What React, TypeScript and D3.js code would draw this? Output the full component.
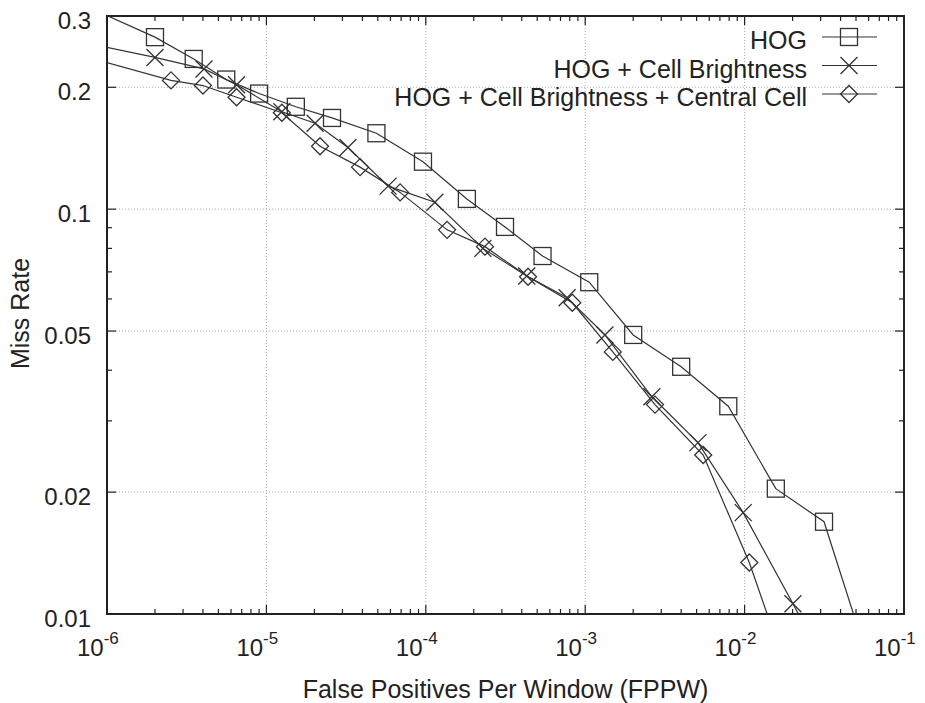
import React from "react"
import * as d3 from "d3"

// values (points outside the frame only feed the clipped lines)
const hogFppw = [5e-7, 2.0e-6, 3.5e-6, 5.6e-6, 9.0e-6, 1.53e-5, 2.58e-5, 4.9e-5, 9.6e-5, 1.81e-4, 3.14e-4, 5.4e-4, 1.06e-3, 2.0e-3, 4.0e-3, 7.9e-3, 1.57e-2, 3.15e-2, 5.5e-2]
const hogMiss = [0.34, 0.266, 0.235, 0.209, 0.193, 0.179, 0.168, 0.154, 0.131, 0.106, 0.0904, 0.0766, 0.066, 0.0489, 0.0408, 0.0326, 0.0204, 0.0169, 0.0085]

const brightFppw = [5e-7, 2.0e-6, 4.06e-6, 6.5e-6, 1.25e-5, 2.02e-5, 3.25e-5, 5.8e-5, 1.14e-4, 2.28e-4, 4.3e-4, 7.7e-4, 1.33e-3, 2.62e-3, 5.1e-3, 9.8e-3, 2.01e-2, 2.3e-2]
const brightMiss = [0.266, 0.237, 0.222, 0.203, 0.174, 0.163, 0.142, 0.114, 0.104, 0.08, 0.0684, 0.0604, 0.0489, 0.0344, 0.0265, 0.0178, 0.0106, 0.0096]

const centralFppw = [5e-7, 2.52e-6, 4.0e-6, 6.5e-6, 1.25e-5, 2.17e-5, 3.87e-5, 6.9e-5, 1.36e-4, 2.35e-4, 4.38e-4, 8.3e-4, 1.49e-3, 2.74e-3, 5.5e-3, 1.07e-2, 1.52e-2]
const centralMiss = [0.248, 0.208, 0.202, 0.189, 0.173, 0.143, 0.127, 0.11, 0.0889, 0.0808, 0.0681, 0.0587, 0.0444, 0.0329, 0.0247, 0.0134, 0.009]

const seriesNames = ["HOG", "HOG + Cell Brightness", "HOG + Cell Brightness + Central Cell"]
const seriesMarkers = ["square", "cross", "diamond"]

const xTickExps = [-6, -5, -4, -3, -2, -1]
const yTickValues = [0.3, 0.2, 0.1, 0.05, 0.02, 0.01]
const yTickLabels = ["0.3", "0.2", "0.1", "0.05", "0.02", "0.01"]
const yMinorValues = [0.09, 0.08, 0.07, 0.06, 0.04, 0.03]

const W = 925
const H = 703
const margin = { top: 16, right: 21, bottom: 89, left: 107 }
const font = "'Liberation Sans', Arial, Helvetica, sans-serif"
const ink = "#222"
const lineCol = "#333"

const Marker = ({ kind, x, y }: { kind: string; x: number; y: number }) => {
  const s = 8.5
  if (kind === "square")
    return <rect x={x - s} y={y - s} width={2 * s} height={2 * s} fill="none" stroke={lineCol} strokeWidth={1.3} />
  if (kind === "cross")
    return (
      <path d={`M${x - s},${y - s}L${x + s},${y + s}M${x - s},${y + s}L${x + s},${y - s}`} stroke={lineCol} strokeWidth={1.3} fill="none" />
    )
  return (
    <path d={`M${x},${y - s}L${x + s},${y}L${x},${y + s}L${x - s},${y}Z`} fill="none" stroke={lineCol} strokeWidth={1.3} />
  )
}

const App = () => {
  const x = d3.scaleLog().domain([1e-6, 1e-1]).range([margin.left, W - margin.right])
  const y = d3.scaleLog().domain([0.01, 0.3]).range([H - margin.bottom, margin.top])
  const [x0, x1] = x.range()
  const [y0, y1] = y.range()

  const series = [
    { xs: hogFppw, ys: hogMiss },
    { xs: brightFppw, ys: brightMiss },
    { xs: centralFppw, ys: centralMiss },
  ].map((s, i) => ({
    name: seriesNames[i],
    marker: seriesMarkers[i],
    pts: s.xs.map((v, j) => [v, s.ys[j]] as [number, number]),
  }))

  const line = d3
    .line<[number, number]>()
    .x((d) => x(d[0]))
    .y((d) => y(d[1]))

  const inside = (d: [number, number]) => d[0] >= 1e-6 && d[0] <= 1e-1 && d[1] >= 0.01 && d[1] <= 0.3

  const xMinor: number[] = []
  xTickExps.slice(0, -1).forEach((e) => {
    for (let k = 2; k < 10; k++) xMinor.push(k * Math.pow(10, e))
  })

  const legendRight = 807
  const legendBase = [49, 77.5, 106]

  return (
    <div style={{ position: "absolute", left: 0, top: 0 }}>
      <svg width={W} height={H} style={{ display: "block", background: "#fff" }}>
        <defs>
          <clipPath id="plot-clip">
            <rect x={x0} y={y1} width={x1 - x0} height={y0 - y1} />
          </clipPath>
        </defs>

        {/* grid */}
        <g stroke="#aaa" strokeWidth={1} strokeDasharray="1,2">
          {xTickExps.slice(1, -1).map((e) => (
            <line key={"gx" + e} x1={x(Math.pow(10, e))} x2={x(Math.pow(10, e))} y1={y1} y2={y0} />
          ))}
          {yTickValues.slice(1, -1).map((v) => (
            <line key={"gy" + v} x1={x0} x2={x1} y1={y(v)} y2={y(v)} />
          ))}
        </g>

        {/* ticks */}
        <g stroke={ink} strokeWidth={1.2}>
          {xTickExps.map((e) => {
            const px = x(Math.pow(10, e))
            return (
              <g key={"tx" + e}>
                <line x1={px} x2={px} y1={y0} y2={y0 - 9} />
                <line x1={px} x2={px} y1={y1} y2={y1 + 9} />
              </g>
            )
          })}
          {xMinor.map((v) => (
            <g key={"mx" + v}>
              <line x1={x(v)} x2={x(v)} y1={y0} y2={y0 - 5} />
              <line x1={x(v)} x2={x(v)} y1={y1} y2={y1 + 5} />
            </g>
          ))}
          {yTickValues.map((v) => (
            <g key={"ty" + v}>
              <line x1={x0} x2={x0 + 9} y1={y(v)} y2={y(v)} />
              <line x1={x1} x2={x1 - 9} y1={y(v)} y2={y(v)} />
            </g>
          ))}
          {yMinorValues.map((v) => (
            <g key={"my" + v}>
              <line x1={x0} x2={x0 + 5} y1={y(v)} y2={y(v)} />
              <line x1={x1} x2={x1 - 5} y1={y(v)} y2={y(v)} />
            </g>
          ))}
        </g>

        {/* series */}
        <g clipPath="url(#plot-clip)">
          {series.map((s) => (
            <path key={s.name} d={line(s.pts) || ""} fill="none" stroke={lineCol} strokeWidth={1.2} />
          ))}
          {series.map((s) =>
            s.pts.filter(inside).map((d, j) => <Marker key={s.name + j} kind={s.marker} x={x(d[0])} y={y(d[1])} />)
          )}
        </g>

        {/* frame */}
        <rect x={x0} y={y1} width={x1 - x0} height={y0 - y1} fill="none" stroke={ink} strokeWidth={2} />

        {/* tick labels */}
        <g fontFamily={font} fill={ink}>
          {yTickValues.map((v, i) => (
            <text key={"ly" + v} x={91} y={y(v) + 13} textAnchor="end" fontSize={24}>
              {yTickLabels[i]}
            </text>
          ))}
          {xTickExps.map((e) => (
            <text key={"lx" + e} x={x(Math.pow(10, e)) - 30} y={656} fontSize={24}>
              10
              <tspan dy={-12} fontSize={17}>
                {e}
              </tspan>
            </text>
          ))}
        </g>

        {/* axis titles */}
        <text x={(x0 + x1) / 2} y={698} textAnchor="middle" fontFamily={font} fontSize={25} fill={ink}>
          False Positives Per Window (FPPW)
        </text>
        <text
          transform={`translate(29, ${(257 + 370) / 2}) rotate(-90)`}
          textAnchor="middle"
          fontFamily={font}
          fontSize={25}
          fill={ink}
        >
          Miss Rate
        </text>

        {/* legend */}
        <g fontFamily={font} fontSize={25} fill={ink}>
          {series.map((s, i) => (
            <g key={"lg" + s.name}>
              <text x={legendRight} y={legendBase[i]} textAnchor="end">
                {s.name}
              </text>
              <line x1={822} x2={877} y1={legendBase[i] - 12} y2={legendBase[i] - 12} stroke={lineCol} strokeWidth={1.2} />
              <Marker kind={s.marker} x={849} y={legendBase[i] - 12} />
            </g>
          ))}
        </g>
      </svg>
    </div>
  )
}

export default App
